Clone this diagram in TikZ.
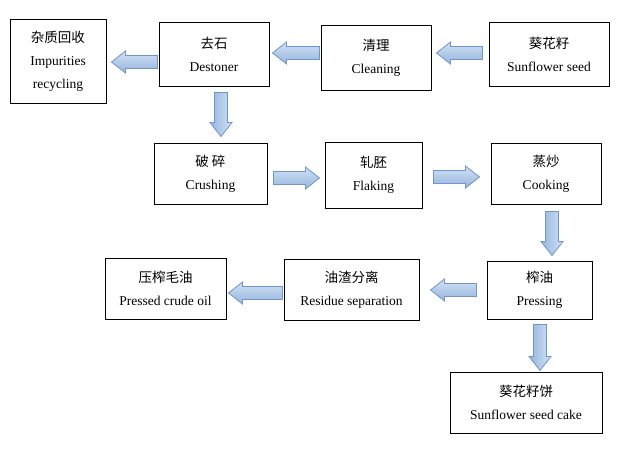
\documentclass[tikz,border=0pt]{standalone}
\usepackage{fontspec}
\setmainfont{Liberation Serif}
\newfontfamily\cjk{Noto Sans CJK SC}
\usetikzlibrary{calc}
\definecolor{arrlight}{RGB}{208,224,244}
\definecolor{arrdark}{RGB}{150,182,222}
\definecolor{arrline}{RGB}{110,150,200}
\def\sw{6.5pt}
\def\hw{11pt}
\def\hl{14pt}
\newcommand\larrow[2]{\draw[flowarr, top color=arrlight, bottom color=arrdark] let \p1=(#1), \p2=(#2) in
 (\x1,\y1+\sw) -- (\x2+\hl,\y1+\sw) -- (\x2+\hl,\y1+\hw) -- (\x2,\y1) -- (\x2+\hl,\y1-\hw) -- (\x2+\hl,\y1-\sw) -- (\x1,\y1-\sw) -- cycle;}
\newcommand\rarrow[2]{\draw[flowarr, top color=arrlight, bottom color=arrdark] let \p1=(#1), \p2=(#2) in
 (\x1,\y1+\sw) -- (\x2-\hl,\y1+\sw) -- (\x2-\hl,\y1+\hw) -- (\x2,\y1) -- (\x2-\hl,\y1-\hw) -- (\x2-\hl,\y1-\sw) -- (\x1,\y1-\sw) -- cycle;}
\newcommand\darrow[2]{\draw[flowarr, left color=arrdark, right color=arrlight] let \p1=(#1), \p2=(#2) in
 (\x1+\sw,\y1) -- (\x1+\sw,\y2+\hl) -- (\x1+\hw,\y2+\hl) -- (\x1,\y2) -- (\x1-\hw,\y2+\hl) -- (\x1-\sw,\y2+\hl) -- (\x1-\sw,\y1) -- cycle;}
\begin{document}
\begin{tikzpicture}[x=1pt,y=-1pt,
  box/.style={draw, line width=1pt, inner sep=0pt, align=center,
    font=\fontsize{13.5}{23}\selectfont},
  flowarr/.style={draw=arrline, line width=0.8pt, line join=miter}]
\path[use as bounding box, fill=white] (0,0) rectangle (625,448);
% boxes
\node[box, minimum width=96pt, minimum height=84pt] (imp) at (58,61)
  {{\cjk 杂质回收}\\Impurities\\recycling};
\node[box, minimum width=110pt, minimum height=64pt] (dest) at (214,54)
  {{\cjk 去石}\\Destoner};
\node[box, minimum width=110pt, minimum height=65pt] (clean) at (376,57.5)
  {{\cjk 清理}\\Cleaning};
\node[box, minimum width=120pt, minimum height=64pt] (seed) at (549,54)
  {{\cjk 葵花籽}\\Sunflower seed};
\node[box, minimum width=113pt, minimum height=61pt] (crush) at (210.5,173.5)
  {{\cjk 破\ 碎}\\Crushing};
\node[box, minimum width=97pt, minimum height=66pt] (flak) at (373.5,175)
  {{\cjk 轧胚}\\Flaking};
\node[box, minimum width=110pt, minimum height=61pt] (cook) at (546,173.5)
  {{\cjk 蒸炒}\\Cooking};
\node[box, minimum width=121pt, minimum height=61pt] (oil) at (165.5,288.5)
  {{\cjk 压榨毛油}\\Pressed crude oil};
\node[box, minimum width=135pt, minimum height=61pt] (res) at (351.5,289.5)
  {{\cjk 油渣分离}\\Residue separation};
\node[box, minimum width=105pt, minimum height=58pt] (press) at (539.5,290)
  {{\cjk 榨油}\\Pressing};
\node[box, minimum width=152pt, minimum height=61pt] (cake) at (526,402.5)
  {{\cjk 葵花籽饼}\\Sunflower seed cake};
% arrows
\larrow{$(dest.west |- imp.east)+(-1,1)$}{$(imp.east)+(5,1)$}
\larrow{$(clean.west |- dest.east)+(-1,-1)$}{$(dest.east)+(3,0)$}
\larrow{$(seed.west)+(-6,-1)$}{$(clean.east)+(5,0)$}
\darrow{$(dest.south)+(7,6)$}{$(crush.north)+(0,-6)$}
\rarrow{$(crush.east)+(6,4.5)$}{$(flak.west)+(-5,0)$}
\rarrow{$(flak.east)+(11,2)$}{$(cook.west)+(-11,0)$}
\darrow{$(cook.south)+(6,7)$}{$(press.north)+(0,-5)$}
\larrow{$(press.west)+(-10,0)$}{$(res.east)+(11,0)$}
\larrow{$(res.west)+(-1,3.5)$}{$(oil.east)+(2,0)$}
\darrow{$(press.south)+(0.5,5)$}{$(cake.north)+(0,-1)$}
\end{tikzpicture}
\end{document}
